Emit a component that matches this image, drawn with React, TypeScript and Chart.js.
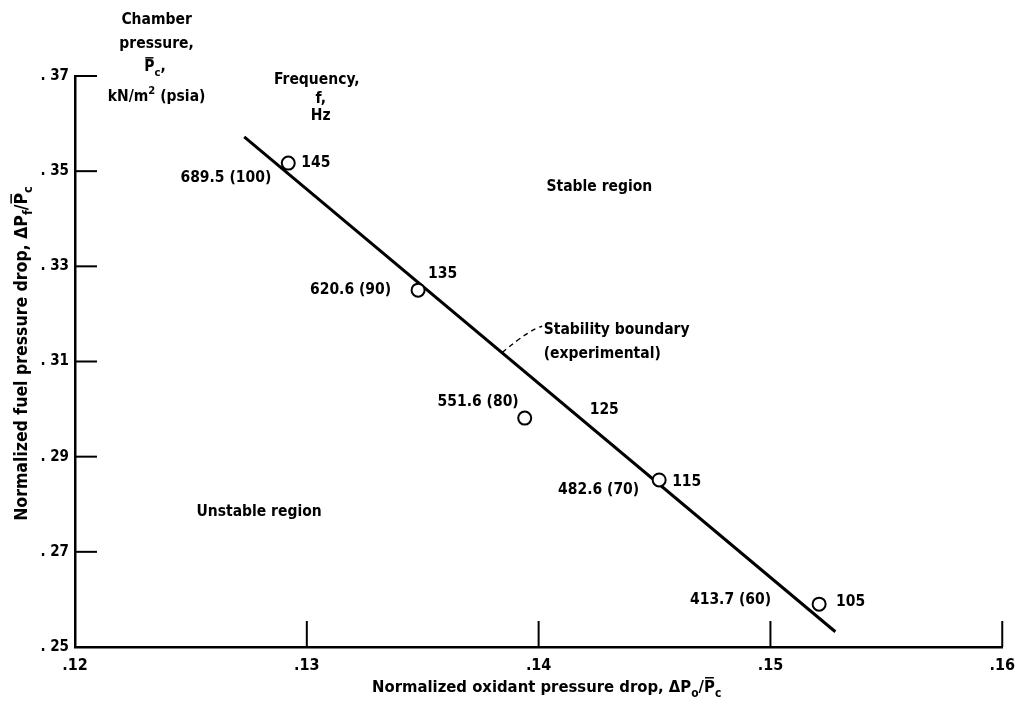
import { useEffect, useRef } from 'react';
import { Chart, registerables } from 'chart.js';

Chart.register(...registerables);

// ---- data ----
const frequencyHz = ['145', '135', '125', '115', '105'];
const chamberPressure = ['689.5 (100)', '620.6 (90)', '551.6 (80)', '482.6 (70)', '413.7 (60)'];
const oxidantDrop = [0.1292, 0.1348, 0.1394, 0.1452, 0.1521];
const fuelDrop = [0.3517, 0.325, 0.2981, 0.2851, 0.259];
const boundaryX = [0.1273, 0.1528];
const boundaryY = [0.3572, 0.2532];
const xTickValues = [0.12, 0.13, 0.14, 0.15, 0.16];
const yTickValues = [0.25, 0.27, 0.29, 0.31, 0.33, 0.35, 0.37];

const FONT_FAMILY = '"DejaVu Sans Condensed", "Liberation Sans Narrow", sans-serif';
const font = (size: number, weight = 'bold') => `${weight} ${size}px ${FONT_FAMILY}`;
const LABEL_SIZE = 15.5;

type Seg = { t: string; sub?: boolean; sup?: boolean; bar?: boolean };

function segWidth(ctx: CanvasRenderingContext2D, s: Seg, size: number) {
  ctx.font = font(s.sub || s.sup ? size * 0.72 : size);
  return ctx.measureText(s.t).width;
}

function drawRich(ctx: CanvasRenderingContext2D, segs: Seg[], x: number, y: number, align: 'left' | 'center' | 'right', size = LABEL_SIZE) {
  const total = segs.reduce((a, s) => a + segWidth(ctx, s, size), 0);
  let cx = align === 'left' ? x : align === 'center' ? x - total / 2 : x - total;
  ctx.save();
  ctx.textBaseline = 'middle';
  ctx.textAlign = 'left';
  ctx.fillStyle = '#000';
  ctx.strokeStyle = '#000';
  for (const s of segs) {
    const w = segWidth(ctx, s, size);
    const small = s.sub || s.sup;
    ctx.font = font(small ? size * 0.72 : size);
    const dy = s.sub ? size * 0.38 : s.sup ? -size * 0.42 : 0;
    ctx.fillText(s.t, cx, y + dy);
    if (s.bar) {
      ctx.lineWidth = 1.5;
      ctx.beginPath();
      ctx.moveTo(cx + 1, y + dy - size * 0.62);
      ctx.lineTo(cx + w - 1, y + dy - size * 0.62);
      ctx.stroke();
    }
    cx += w;
  }
  ctx.restore();
}

// free text annotations in data coordinates
const annotations: { x: number; y: number; align: 'left' | 'center' | 'right'; segs: Seg[] }[] = [
  { x: 0.12352, y: 0.3818, align: 'center', segs: [{ t: 'Chamber' }] },
  { x: 0.12352, y: 0.3767, align: 'center', segs: [{ t: 'pressure,' }] },
  { x: 0.12345, y: 0.3718, align: 'center', segs: [{ t: 'P', bar: true }, { t: 'c', sub: true }, { t: ',' }] },
  { x: 0.12352, y: 0.3655, align: 'center', segs: [{ t: 'kN/m' }, { t: '2', sup: true }, { t: ' (psia)' }] },
  { x: 0.13043, y: 0.3692, align: 'center', segs: [{ t: 'Frequency,' }] },
  { x: 0.13060, y: 0.3651, align: 'center', segs: [{ t: 'f,' }] },
  { x: 0.13060, y: 0.3615, align: 'center', segs: [{ t: 'Hz' }] },
  { x: 0.14262, y: 0.3467, align: 'center', segs: [{ t: 'Stable region' }] },
  { x: 0.12794, y: 0.2784, align: 'center', segs: [{ t: 'Unstable region' }] },
  { x: 0.14022, y: 0.3166, align: 'left', segs: [{ t: 'Stability boundary' }] },
  { x: 0.14022, y: 0.3116, align: 'left', segs: [{ t: '(experimental)' }] },
];

// pixel offsets of point labels relative to their circle
const freqOffsets = [[13, 0], [10, -16], [65, -8], [13, 2], [17, -2]];
const pressOffsets = [[-17, 15], [-27, 0], [-6, -16], [-20, 10], [-48, -4]];

const overlayPlugin = {
  id: 'overlay',
  afterDraw(chart: any) {
    const ctx: CanvasRenderingContext2D = chart.ctx;
    const xs = chart.scales.x;
    const ys = chart.scales.y;
    const area = chart.chartArea;
    ctx.save();
    ctx.strokeStyle = '#000';
    ctx.lineWidth = 2;
    // inward tick marks
    for (const v of yTickValues) {
      if (v === ys.min) continue;
      const py = ys.getPixelForValue(v);
      ctx.beginPath();
      ctx.moveTo(area.left, py);
      ctx.lineTo(area.left + 22, py);
      ctx.stroke();
    }
    for (const v of xTickValues) {
      if (v === xs.min) continue;
      const px = xs.getPixelForValue(v);
      ctx.beginPath();
      ctx.moveTo(px, area.bottom);
      ctx.lineTo(px, area.bottom - 26);
      ctx.stroke();
    }
    // point labels
    for (let i = 0; i < oxidantDrop.length; i++) {
      const px = xs.getPixelForValue(oxidantDrop[i]);
      const py = ys.getPixelForValue(fuelDrop[i]);
      drawRich(ctx, [{ t: frequencyHz[i] }], px + freqOffsets[i][0], py + freqOffsets[i][1], 'left');
      drawRich(ctx, [{ t: chamberPressure[i] }], px + pressOffsets[i][0], py + pressOffsets[i][1], 'right');
    }
    // annotations
    for (const a of annotations) {
      drawRich(ctx, a.segs, xs.getPixelForValue(a.x), ys.getPixelForValue(a.y), a.align);
    }
    // dashed leader from boundary line to its label
    const t = 0.436;
    const lx = boundaryX[0] + (boundaryX[1] - boundaryX[0]) * t;
    const ly = boundaryY[0] + (boundaryY[1] - boundaryY[0]) * t;
    const sx = xs.getPixelForValue(lx);
    const sy = ys.getPixelForValue(ly);
    const ex = xs.getPixelForValue(0.14015);
    const ey = ys.getPixelForValue(0.3172);
    ctx.lineWidth = 1.4;
    ctx.setLineDash([5, 4]);
    ctx.beginPath();
    ctx.moveTo(sx, sy);
    ctx.quadraticCurveTo(ex - 12, ey + 2, ex, ey - 1);
    ctx.stroke();
    ctx.setLineDash([]);
    // axis titles
    drawRich(
      ctx,
      [{ t: 'Normalized oxidant pressure drop, ' }, { t: 'ΔP' }, { t: 'o', sub: true }, { t: '/' }, { t: 'P', bar: true }, { t: 'c', sub: true }],
      (area.left + area.right) / 2 + 8,
      area.bottom + 41,
      'center',
      16.5
    );
    ctx.save();
    ctx.translate(area.left - 53, (area.top + area.bottom) / 2 - 8);
    ctx.rotate(-Math.PI / 2);
    drawRich(
      ctx,
      [{ t: 'Normalized fuel pressure drop, ' }, { t: 'ΔP' }, { t: 'f', sub: true }, { t: '/' }, { t: 'P', bar: true }, { t: 'c', sub: true }],
      0,
      0,
      'center',
      17.5
    );
    ctx.restore();
    ctx.restore();
  },
};

export default function App() {
  const ref = useRef<HTMLCanvasElement | null>(null);
  useEffect(() => {
    if (!ref.current) return;
    const chart = new Chart(ref.current, {
      type: 'scatter',
      data: {
        datasets: [
          {
            type: 'scatter',
            label: 'Data',
            data: oxidantDrop.map((x, i) => ({ x, y: fuelDrop[i] })),
            pointRadius: 6.5,
            pointBackgroundColor: '#fff',
            pointBorderColor: '#000',
            pointBorderWidth: 2,
            order: 0,
          },
          {
            type: 'line',
            label: 'Stability boundary',
            data: boundaryX.map((x, i) => ({ x, y: boundaryY[i] })),
            borderColor: '#000',
            borderWidth: 3,
            pointRadius: 0,
            fill: false,
            order: 1,
          } as any,
        ],
      },
      options: {
        animation: false,
        responsive: false,
        layout: { padding: { left: 0, right: 17, top: 76, bottom: 0 } },
        plugins: { legend: { display: false }, tooltip: { enabled: false } },
        scales: {
          x: {
            type: 'linear',
            min: 0.12,
            max: 0.16,
            afterBuildTicks: (s: any) => {
              s.ticks = xTickValues.map((v) => ({ value: v }));
            },
            afterFit: (s: any) => {
              s.height = 60;
            },
            grid: { display: false, drawTicks: false },
            border: { display: true, color: '#000', width: 2.5 },
            ticks: {
              color: '#000',
              padding: 9,
              font: { family: FONT_FAMILY, size: 16, weight: 'bold' },
              callback: (v: any) => '.' + Math.round(Number(v) * 100),
            },
          },
          y: {
            type: 'linear',
            min: 0.25,
            max: 0.37,
            afterBuildTicks: (s: any) => {
              s.ticks = yTickValues.map((v) => ({ value: v }));
            },
            afterFit: (s: any) => {
              s.width = 75;
            },
            grid: { display: false, drawTicks: false },
            border: { display: true, color: '#000', width: 2.5 },
            ticks: {
              color: '#000',
              padding: 6,
              font: { family: FONT_FAMILY, size: 15, weight: 'bold' },
              callback: (v: any) => '. ' + Math.round(Number(v) * 100),
            },
          },
        },
      },
      plugins: [overlayPlugin],
    });
    return () => chart.destroy();
  }, []);
  return (
    <div style={{ position: 'fixed', left: 0, top: 0, width: 1024, height: 707, background: '#fff' }}>
      <canvas ref={ref} width={1024} height={707} style={{ display: 'block' }} />
    </div>
  );
}
